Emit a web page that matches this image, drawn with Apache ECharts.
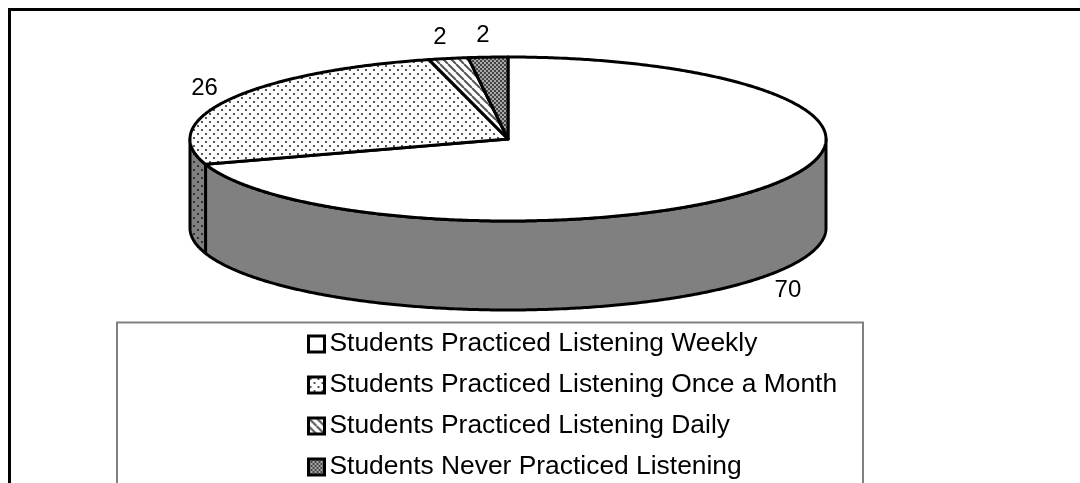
<!DOCTYPE html>
<html>
<head>
<meta charset="utf-8">
<style>html,body{margin:0;padding:0;background:#fff;overflow:hidden}#chart{width:1080px;height:483px}</style>
<script src="https://cdn.jsdelivr.net/npm/echarts@6/dist/echarts.min.js"></script>
</head>
<body>
<div id="chart"></div>
<script>
// Survey results: how often students practised listening
const sliceNames = [
  'Students Practiced Listening Weekly',
  'Students Practiced Listening Once a Month',
  'Students Practiced Listening Daily',
  'Students Never Practiced Listening'
];
const sliceValues = [70, 26, 2, 2];

// Tilted-disc geometry
const CX = 508, CY = 139, RX = 318, RY = 82, DEPTH = 89;
const LABEL_RX = 346, LABEL_RY = 106;
const total = sliceValues.reduce((a, b) => a + b, 0);

function tile(size, draw) {
  const c = document.createElement('canvas');
  c.width = c.height = size;
  draw(c.getContext('2d'), size);
  return { image: c, repeat: 'repeat' };
}
function dots(bg, fg) {
  return tile(8, (g, s) => {
    g.fillStyle = bg; g.fillRect(0, 0, s, s);
    g.fillStyle = fg;
    g.fillRect(1, 1, 2, 2);
    g.fillRect(5, 5, 2, 2);
  });
}
const hatch = tile(8, (g, s) => {
  g.fillStyle = '#fff'; g.fillRect(0, 0, s, s);
  g.strokeStyle = '#555'; g.lineWidth = 2;
  for (let k = -s; k <= s; k += s) {
    g.beginPath(); g.moveTo(k, 0); g.lineTo(k + s, s); g.stroke();
  }
});
const checks = tile(4, (g, s) => {
  g.fillStyle = '#a8a8a8'; g.fillRect(0, 0, s, s);
  g.fillStyle = '#444';
  g.fillRect(0, 0, 2, 2); g.fillRect(2, 2, 2, 2);
});
const topFills = ['#fff', dots('#fdfdfd', '#555'), hatch, checks];
const wallFills = ['#808080', dots('#808080', '#333'), '#808080', '#808080'];

const point = (deg, dy) => {
  const a = deg * Math.PI / 180;
  return [CX + RX * Math.sin(a), CY - RY * Math.cos(a) + (dy || 0)];
};
function arc(from, to, dy) {
  const pts = [], n = Math.max(2, Math.ceil(Math.abs(to - from) * 2));
  for (let i = 0; i <= n; i++) pts.push(point(from + (to - from) * i / n, dy));
  return pts;
}

function sliceRenderer(index) {
  return function (params, api) {
    const value = api.value(0);
    let before = 0;
    for (let i = 0; i < index; i++) before += sliceValues[i];
    const start = before / total * 360;
    const end = start + value / total * 360;
    const line = { stroke: '#000', lineWidth: 3, lineJoin: 'round' };
    const children = [];

    // Only the front half of the rim is visible
    const wallFrom = Math.max(start, 90), wallTo = Math.min(end, 270);
    if (wallTo > wallFrom) {
      children.push({
        type: 'polygon',
        shape: { points: arc(wallFrom, wallTo, 0).concat(arc(wallTo, wallFrom, DEPTH)) },
        style: Object.assign({ fill: wallFills[index] }, line)
      });
    }
    children.push({
      type: 'polygon',
      shape: { points: [[CX, CY]].concat(arc(start, end, 0)) },
      style: Object.assign({ fill: topFills[index] }, line)
    });

    // Value label outside the disc, pushed below the rim on the front half;
    // labels near the top of the disc sit slightly lower and further left
    const mid = (start + end) / 2, a = mid * Math.PI / 180;
    const front = Math.cos(a) < 0;
    const nearTop = front ? 0 : Math.pow(Math.cos(a), 4);
    children.push({
      type: 'text',
      style: {
        x: CX + LABEL_RX * Math.sin(a) - 3.5 * nearTop,
        y: CY - LABEL_RY * Math.cos(a) + (front ? DEPTH : 0) + 2.5 * nearTop,
        text: String(value),
        fill: '#000',
        font: '24px "Liberation Sans", Arial, sans-serif',
        align: 'center',
        verticalAlign: 'middle'
      }
    });
    return { type: 'group', children };
  };
}

const chart = echarts.init(document.getElementById('chart'), null, { renderer: 'canvas' });
chart.setOption({
  animation: false,
  backgroundColor: '#fff',
  graphic: [
    { type: 'polyline', z: 0, silent: true,
      shape: { points: [[9.5, 483], [9.5, 9.5], [1080, 9.5]] },
      style: { fill: null, stroke: '#000', lineWidth: 3 } },
    { type: 'polyline', z: 0, silent: true,
      shape: { points: [[117, 483], [117, 322.5], [863, 322.5], [863, 483]] },
      style: { fill: null, stroke: '#808080', lineWidth: 2 } }
  ],
  legend: {
    orient: 'vertical',
    left: 307,
    top: 331,
    padding: 0,
    icon: 'rect',
    itemWidth: 16,
    itemHeight: 16,
    itemGap: 15,
    selectedMode: false,
    textStyle: { color: '#000', fontSize: 26.4, fontFamily: '"Liberation Sans", Arial, sans-serif' },
    data: sliceNames.map((name, i) => ({
      name,
      itemStyle: { color: topFills[i], borderColor: '#000', borderWidth: 3 }
    }))
  },
  series: sliceNames.map((name, i) => ({
    type: 'custom',
    name,
    coordinateSystem: 'none',
    clip: false,
    renderItem: sliceRenderer(i),
    data: [sliceValues[i]]
  }))
});
</script>
</body>
</html>
